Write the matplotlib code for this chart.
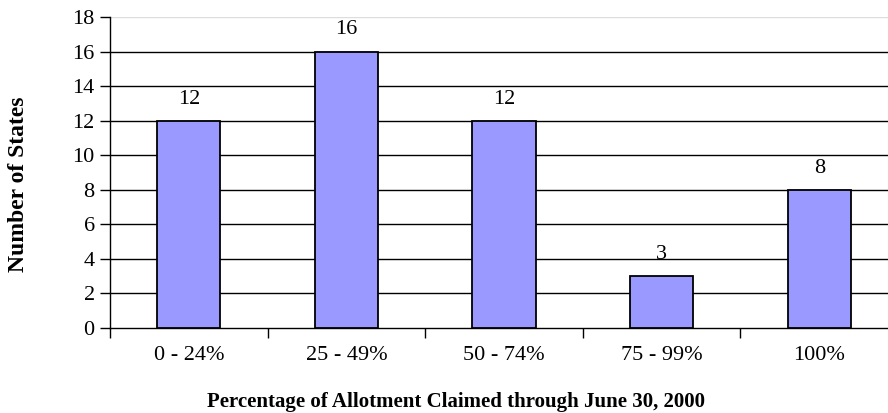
import numpy as np
import matplotlib.pyplot as plt

categories = ['0 - 24%', '25 - 49%', '50 - 74%', '75 - 99%', '100%']
states = [12, 16, 12, 3, 8]
y_ticks = [0, 2, 4, 6, 8, 10, 12, 14, 16, 18]

plt.rcParams['font.family'] = ['Liberation Serif', 'DejaVu Serif']

fig = plt.figure(figsize=(8.88, 4.13), dpi=100)
# the plot area runs past the right edge of the picture, as in the original
ax = fig.add_axes([110 / 888, 85 / 413, 788 / 888, 311 / 413])

x = np.arange(len(categories))
ax.bar(x, states, width=0.4, color='#9999ff', edgecolor='black', linewidth=1.3, zorder=3)
for xi, v in zip(x, states):
    ax.text(xi, v + 1.25, str(v), ha='center', va='center', fontsize=16, zorder=4)

ax.set_xlim(-0.5, len(categories) - 0.5)
ax.set_ylim(0, 18)
ax.set_yticks(y_ticks)
ax.set_yticklabels([str(t) for t in y_ticks], fontsize=16)
for t in y_ticks[1:-1]:
    ax.axhline(t, color='black', linewidth=1.0, zorder=1)
ax.axhline(18, color='#dddddd', linewidth=1.0, zorder=1)

# ticks at category borders, labels at the centres
ax.set_xticks(np.arange(len(categories) + 1) - 0.5)
ax.set_xticklabels([])
ax.set_xticks(x, minor=True)
ax.set_xticklabels(categories, minor=True, fontsize=16)
ax.tick_params(axis='x', which='major', length=7, width=1, direction='out')
ax.tick_params(axis='x', which='minor', length=0, pad=13)
ax.tick_params(axis='y', length=7, width=1, direction='out', pad=4)

for s in ['top', 'right']:
    ax.spines[s].set_visible(False)
ax.spines['left'].set_linewidth(1.0)
ax.spines['bottom'].set_linewidth(1.0)

fig.text(456 / 888, 1 - 402 / 413, 'Percentage of Allotment Claimed through June 30, 2000',
         ha='center', va='center', fontsize=15, fontweight='bold')
fig.text(19 / 888, 1 - 184 / 413, 'Number of States', rotation=90,
         ha='center', va='center', fontsize=17, fontweight='bold')

fig.savefig('out.png', dpi=100)
